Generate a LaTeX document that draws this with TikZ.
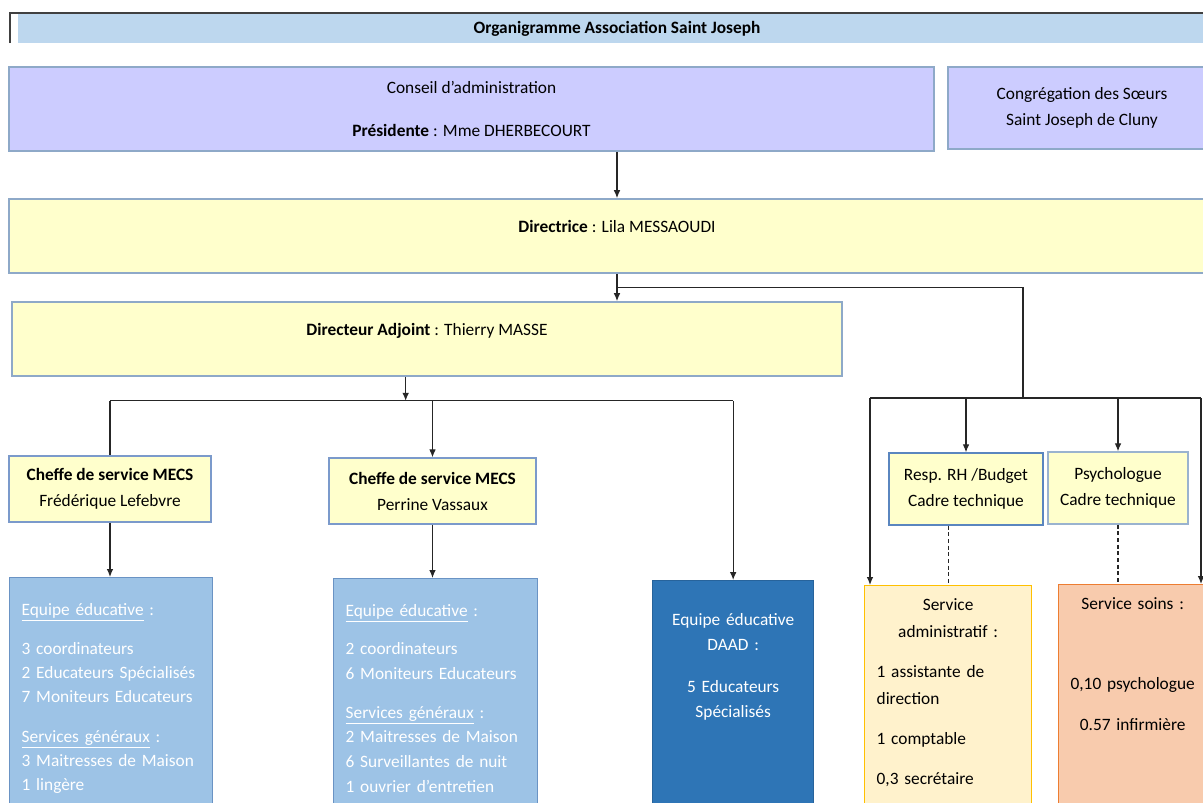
\documentclass[tikz,border=0pt]{standalone}
\usepackage{fontspec}
\setmainfont{Carlito}
\usetikzlibrary{arrows.meta}

\definecolor{bandeau}{HTML}{BDD7EE}
\definecolor{lavande}{HTML}{CCCCFF}
\definecolor{jaunepale}{HTML}{FFFFCC}
\definecolor{bordgris}{HTML}{8EA9C8}
\definecolor{bordcheffe}{HTML}{7B9ACB}
\definecolor{bordrh}{HTML}{5A86BF}
\definecolor{bordpsy}{HTML}{9AB3CF}
\definecolor{bleuclair}{HTML}{9DC3E6}
\definecolor{bordequipe}{HTML}{6A93C4}
\definecolor{bleufonce}{HTML}{2E75B6}
\definecolor{creme}{HTML}{FFF2CC}
\definecolor{bordor}{HTML}{FFC000}
\definecolor{saumon}{HTML}{F8CBAD}
\definecolor{bordorange}{HTML}{ED7D31}

\tikzset{
  cadre/.style={draw=bordgris, line width=1.2pt, fill=jaunepale, align=center,
    font=\fontsize{13}{19.5}\selectfont, inner sep=0pt},
  bw/.style={minimum width=#1*0.75pt},
  bh/.style={minimum height=#1*0.75pt},
  raised/.style={text height=8pt, text depth=14pt},
  tallbox/.style={anchor=north west, inner xsep=9pt, inner ysep=4pt,
    text height=#1, text depth=260pt, line width=1pt},
  ligne/.style={draw=black!85, line width=0.9pt},
  fleche/.style={ligne, -{Latex[length=6pt,width=5pt]}},
  pointille/.style={draw=black!85, line width=0.8pt, dash pattern=on 3pt off 2pt},
}

\begin{document}
\begin{tikzpicture}[x=0.75pt,y=-0.75pt]
  \useasboundingbox (0,0) rectangle (1203,803);
  \clip (0,0) rectangle (1203,803);

  % bandeau du titre
  \node[fill=bandeau, bw=1198, bh=29, inner sep=0pt,
    font=\bfseries\fontsize{13}{15}\selectfont] (titre) at (617,28.5)
    {Organigramme Association Saint Joseph};
  \draw[draw=black!75, line width=1pt] (10,43) -- (10,13) -- (1203,13);

  % direction
  \node[cadre, fill=lavande, bw=925, bh=84] (conseil) at (471.5,109)
    {Conseil d’administration\\[12.75pt]\textbf{Présidente} : Mme DHERBECOURT};
  \node[cadre, fill=lavande, bw=268, bh=82] (congregation) at (1082,108)
    {Congrégation des Sœurs\\Saint Joseph de Cluny};
  \node[cadre, raised, bw=1216, bh=74] (directrice) at (617,236)
    {\textbf{Directrice} : Lila MESSAOUDI};
  \node[cadre, raised, bw=830, bh=74] (da) at (427,339)
    {\textbf{Directeur Adjoint} : Thierry MASSE};

  % cadres
  \node[cadre, draw=bordcheffe, line width=1pt, bw=202, bh=66] (cheffe1) at (110,489)
    {\textbf{Cheffe de service MECS}\\Frédérique Lefebvre};
  \node[cadre, draw=bordcheffe, line width=1pt, bw=207, bh=66] (cheffe2) at (432.5,491)
    {\textbf{Cheffe de service MECS}\\Perrine Vassaux};
  \node[cadre, draw=bordrh, line width=1pt, bw=154, bh=72] (rh) at (966,489)
    {Resp. RH /Budget\\Cadre technique};
  \node[cadre, draw=bordpsy, line width=1pt, bw=140, bh=72] (psy) at (1118,488)
    {Psychologue\\Cadre technique};

  % equipes
  \node[tallbox=24.5pt, fill=bleuclair, draw=bordequipe, text=white, align=left,
    text width=203*0.75pt-18pt, font=\fontsize{13}{18}\selectfont] (equipe1) at (9,577)
    {\underline{Equipe éducative} :\\[11.25pt]
     3 coordinateurs\\
     2 Educateurs Spécialisés\\
     7 Moniteurs Educateurs\\[12pt]
     \underline{Services généraux} :\\
     3 Maitresses de Maison\\
     1 lingère};
  \node[tallbox=24.5pt, fill=bleuclair, draw=bordequipe, text=white, align=left,
    text width=204*0.75pt-18pt, font=\fontsize{13}{18.5}\selectfont] (equipe2) at (333,578)
    {\underline{Equipe éducative} :\\[10pt]
     2 coordinateurs\\
     6 Moniteurs Educateurs\\[10.5pt]
     \underline{Services généraux} :\\
     2 Maitresses de Maison\\
     6 Surveillantes de nuit\\
     1 ouvrier d’entretien};
  \node[tallbox=29.75pt, fill=bleufonce, draw=bleufonce!85!black, text=white, align=center,
    text width=161*0.75pt-18pt, font=\fontsize{13}{18.75}\selectfont] (daad) at (652,580)
    {Equipe éducative\\DAAD :\\[12.75pt]5 Educateurs\\Spécialisés};
  \node[tallbox=14.75pt, fill=creme, draw=bordor, align=left,
    text width=167*0.75pt-18pt, font=\fontsize{13}{20}\selectfont] (servadmin) at (864,585)
    {\makebox[\linewidth]{Service}\\
     \makebox[\linewidth]{administratif :}\\[10pt]
     1 assistante de\\
     direction\\[10pt]
     1 comptable\\[10.5pt]
     0,3 secrétaire};
  \node[tallbox=14.75pt, inner xsep=3pt, fill=saumon, draw=bordorange, align=center,
    text width=148*0.75pt-6pt, font=\fontsize{13}{20}\selectfont] (soins) at (1058,584)
    {Service soins :\\[40pt]0,10 psychologue\\[10.7pt]0.57 infirmière};

  % liaisons
  \draw[fleche] (conseil.south -| directrice.north) -- (directrice.north);
  \draw[fleche] (directrice.south) -- (directrice.south |- da.north);
  \path (directrice.south) ++(0,14) coordinate (jonction);
  \coordinate (coude) at (1023,398);
  \draw[ligne] (jonction) -| (coude);
  \coordinate (barreG) at (870,398);
  \coordinate (barreD) at (1201,398);
  \draw[ligne] (barreG) -- (barreD);
  \draw[fleche] (barreG) -- (barreG |- servadmin.north);
  \draw[fleche] (rh.north |- barreG) -- (rh.north);
  \draw[fleche] (psy.north |- barreG) -- (psy.north);
  \draw[fleche] (barreD) -- (barreD |- soins.north);

  \path (da.south) ++(0,24) coordinate (bus);
  \path ([xshift=-16pt]da.south) coordinate (daBas);
  \draw[fleche] (daBas) -- (daBas |- bus);
  \draw[ligne] (cheffe1.north |- bus) -- (daad.north |- bus);
  \draw[ligne] (cheffe1.north |- bus) -- (cheffe1.north);
  \draw[fleche] (cheffe2.north |- bus) -- (cheffe2.north);
  \draw[fleche] (daad.north |- bus) -- (daad.north);
  \draw[fleche] (cheffe1.south) -- (cheffe1.south |- equipe1.north);
  \draw[fleche] (cheffe2.south) -- (cheffe2.south |- equipe2.north);

  \draw[pointille] (servadmin.north |- rh.south) -- (servadmin.north);
  \draw[pointille] (psy.south) -- (psy.south |- soins.north);
\end{tikzpicture}
\end{document}
